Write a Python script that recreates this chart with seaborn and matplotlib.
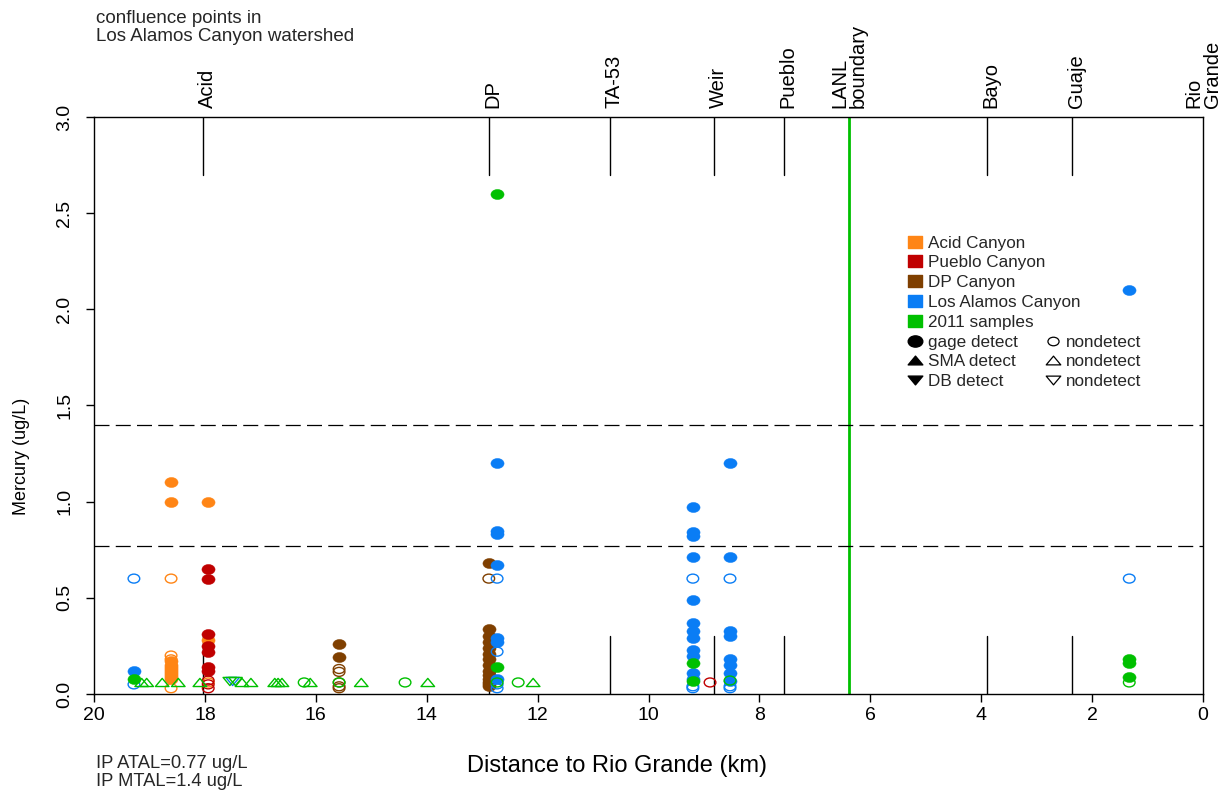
import numpy as np
import pandas as pd
import matplotlib
matplotlib.use('Agg')
import matplotlib.pyplot as plt
import matplotlib.transforms as mtransforms
from matplotlib.path import Path
from matplotlib.lines import Line2D
import seaborn as sns

sns.set_style('white')
plt.rcParams['font.family'] = ['Liberation Sans', 'DejaVu Sans']

#%% DATA

# confluence points, km upstream of the Rio Grande
conf_names = ['Acid', 'DP', 'TA-53', 'Weir', 'Pueblo', 'Bayo', 'Guaje', 'Rio\nGrande']
conf_km = [18.03, 12.88, 10.69, 8.82, 7.56, 3.90, 2.36, 0.0]
lanl_km = 6.38
lanl_name = 'LANL\nboundary'
atal = 0.77
mtal = 1.4

# Acid Canyon (gage)
acid_det_km = [18.61, 18.61, 18.61, 18.61, 18.61, 18.61, 18.61, 18.61, 18.61, 18.61, 18.61, 17.94, 17.94]
acid_det_hg = [1.10, 1.00, 0.17, 0.15, 0.14, 0.13, 0.12, 0.11, 0.10, 0.09, 0.08, 1.00, 0.28]
acid_nd_km = [18.61, 18.61, 18.61, 18.61, 17.94]
acid_nd_hg = [0.60, 0.20, 0.18, 0.03, 0.06]

# Pueblo Canyon (gage)
pueblo_det_km = [17.94, 17.94, 17.94, 17.94, 17.94, 17.94, 17.94]
pueblo_det_hg = [0.65, 0.60, 0.31, 0.25, 0.22, 0.14, 0.12]
pueblo_nd_km = [17.94, 17.94, 17.94, 8.89]
pueblo_nd_hg = [0.07, 0.05, 0.03, 0.06]

# DP Canyon (gage)
dp_det_km = [15.58, 15.58, 12.88, 12.88, 12.88, 12.88, 12.88, 12.88, 12.88,
             12.88, 12.88, 12.88, 12.88, 12.88, 12.88, 12.88]
dp_det_hg = [0.26, 0.19, 0.68, 0.34, 0.30, 0.27, 0.24, 0.21, 0.18,
             0.15, 0.12, 0.10, 0.08, 0.06, 0.05, 0.04]
dp_nd_km = [15.58, 15.58, 15.58, 15.58, 15.58, 12.88]
dp_nd_hg = [0.13, 0.115, 0.06, 0.04, 0.03, 0.60]

# Los Alamos Canyon (gage + DB)
la_det_km = [19.28, 12.73, 12.73, 12.73, 12.73, 12.73, 12.73, 12.73,
             9.20, 9.20, 9.20, 9.20, 9.20, 9.20, 9.20, 9.20, 9.20, 9.20, 9.20, 9.20,
             8.53, 8.53, 8.53, 8.53, 8.53, 8.53, 8.53, 8.53, 1.33]
la_det_hg = [0.12, 1.20, 0.85, 0.83, 0.67, 0.29, 0.27, 0.08,
             0.97, 0.84, 0.82, 0.71, 0.49, 0.37, 0.33, 0.29, 0.23, 0.20, 0.11, 0.08,
             1.20, 0.71, 0.33, 0.30, 0.18, 0.15, 0.11, 0.07, 2.10]
la_nd_km = [19.28, 19.28, 12.73, 12.73, 12.73, 12.73, 9.20, 9.20, 9.20, 8.53, 8.53, 8.53, 1.33]
la_nd_hg = [0.60, 0.05, 0.60, 0.22, 0.05, 0.03, 0.60, 0.04, 0.03, 0.60, 0.04, 0.03, 0.60]
la_db_nd_km = [17.50]
la_db_nd_hg = [0.065]

# 2011 samples (gage, SMA, DB)
s11_det_km = [19.28, 12.73, 12.73, 9.20, 9.20, 1.33, 1.33, 1.33]
s11_det_hg = [0.08, 2.60, 0.14, 0.16, 0.07, 0.18, 0.16, 0.09]
s11_nd_km = [16.21, 15.58, 14.39, 12.73, 12.35, 8.53, 1.33]
s11_nd_hg = [0.06, 0.06, 0.06, 0.06, 0.06, 0.07, 0.06]
s11_sma_nd_km = [19.14, 19.05, 18.77, 18.48, 18.09, 17.33, 17.17, 16.74, 16.68,
                 16.61, 16.10, 15.18, 13.98, 12.08]
s11_sma_nd_hg = [0.06, 0.06, 0.06, 0.06, 0.06, 0.06, 0.06, 0.06, 0.06,
                 0.06, 0.06, 0.06, 0.06, 0.06]
s11_db_nd_km = [17.55, 17.45]
s11_db_nd_hg = [0.065, 0.065]

sources = ['Acid Canyon', 'Pueblo Canyon', 'DP Canyon', 'Los Alamos Canyon', '2011 samples']
colors = ['#FF8515', '#C00000', '#7F3F00', '#0A7DF5', '#00C000']
pal = dict(zip(sources, colors))

#%% BUILD TABLE
rows = []
def add(src, sampler, detect, km, hg):
    for k, h in zip(km, hg):
        rows.append((src, sampler, detect, k, h))

add('Acid Canyon', 'gage', True, acid_det_km, acid_det_hg)
add('Acid Canyon', 'gage', False, acid_nd_km, acid_nd_hg)
add('Pueblo Canyon', 'gage', True, pueblo_det_km, pueblo_det_hg)
add('Pueblo Canyon', 'gage', False, pueblo_nd_km, pueblo_nd_hg)
add('DP Canyon', 'gage', True, dp_det_km, dp_det_hg)
add('DP Canyon', 'gage', False, dp_nd_km, dp_nd_hg)
add('Los Alamos Canyon', 'gage', True, la_det_km, la_det_hg)
add('Los Alamos Canyon', 'gage', False, la_nd_km, la_nd_hg)
add('Los Alamos Canyon', 'DB', False, la_db_nd_km, la_db_nd_hg)
add('2011 samples', 'gage', True, s11_det_km, s11_det_hg)
add('2011 samples', 'gage', False, s11_nd_km, s11_nd_hg)
add('2011 samples', 'SMA', False, s11_sma_nd_km, s11_sma_nd_hg)
add('2011 samples', 'DB', False, s11_db_nd_km, s11_db_nd_hg)
df = pd.DataFrame(rows, columns=['source', 'sampler', 'detect', 'km', 'hg'])

# marker shapes (slightly squashed like the original device)
circ = Path.unit_circle()
ellipse = Path(circ.vertices * [1.0, 0.77], circ.codes)
tri_up = Path([(-1, -0.6), (1, -0.6), (0, 0.6), (-1, -0.6)], closed=True)
tri_dn = Path([(-1, 0.6), (1, 0.6), (0, -0.6), (-1, 0.6)], closed=True)
square = Path([(-1, -0.8), (1, -0.8), (1, 0.8), (-1, 0.8), (-1, -0.8)], closed=True)
shapes = {'gage': ellipse, 'SMA': tri_up, 'DB': tri_dn}

#%% PLOT
fig = plt.figure(figsize=(12.32, 7.91), dpi=100)
ax = fig.add_axes([94/1232, 1-694/791, 1109/1232, 577/791])

# confluence marks
for km in conf_km[:-1]:
    ax.plot([km, km], [0, 0.3], color='k', lw=1)
    ax.plot([km, km], [2.7, 3.0], color='k', lw=1)
ax.axvline(lanl_km, color='#00C000', lw=2)
ax.axhline(atal, color='k', lw=0.9, dashes=(12, 5))
ax.axhline(mtal, color='k', lw=0.9, dashes=(12, 5))

for src in sources:
    for sampler in ['gage', 'SMA', 'DB']:
        for det in [True, False]:
            sub = df[(df.source == src) & (df.sampler == sampler) & (df.detect == det)]
            if len(sub) == 0:
                continue
            if det:
                sns.scatterplot(data=sub, x='km', y='hg', color=pal[src], marker=shapes[sampler],
                                s=90, edgecolor=pal[src], linewidth=0.3, legend=False, ax=ax, zorder=3)
            else:
                sns.scatterplot(data=sub, x='km', y='hg', color=pal[src], marker=shapes[sampler],
                                s=70 if sampler == 'gage' else 95, facecolor='none',
                                edgecolor=pal[src], linewidth=1.0, legend=False, ax=ax, zorder=3)

ax.set_xlim(20, 0)
ax.set_ylim(0, 3)
ax.set_xticks(np.arange(20, -1, -2))
ax.set_xticklabels([str(v) for v in range(20, -1, -2)], fontsize=14)
ax.set_yticks(np.arange(0, 3.01, 0.5))
ax.set_yticklabels(['%.1f' % v for v in np.arange(0, 3.01, 0.5)], fontsize=14,
                   rotation=90, va='center')
ax.tick_params(axis='both', bottom=True, left=True, direction='out', length=6,
               width=1, color='k', labelcolor='k')
ax.tick_params(axis='x', pad=3)
ax.tick_params(axis='y', pad=9)
for sp in ax.spines.values():
    sp.set_color('k')
    sp.set_linewidth(1)

ax.set_xlabel('Distance to Rio Grande (km)', fontsize=17, color='k')
ax.xaxis.set_label_coords(0.4716, -0.125)
ax.xaxis.label.set_va('center')
ax.set_ylabel('Mercury (ug/L)', fontsize=13, color='k')
ax.yaxis.set_label_coords(-0.065, 0.412)
ax.yaxis.label.set_va('center')

# confluence names above the plot
trans = mtransforms.blended_transform_factory(ax.transData, ax.transAxes)
for name, km in zip(conf_names + [lanl_name], conf_km + [lanl_km]):
    off = 0 if '\n' in name else 4
    t = trans + mtransforms.ScaledTranslation(off/100, 9/100, fig.dpi_scale_trans)
    ax.text(km, 1.0, name, transform=t, rotation=90, ha='center', va='bottom',
            multialignment='left', fontsize=14.5, color='k', linespacing=0.95)

fig.text(96/1232, 1-10/791, 'confluence points in\nLos Alamos Canyon watershed',
         ha='left', va='top', fontsize=13.5, linespacing=1.07)
fig.text(96/1232, 1-755/791, 'IP ATAL=0.77 ug/L\nIP MTAL=1.4 ug/L',
         ha='left', va='top', fontsize=13.2, linespacing=1.07)

# legend: colours + sampler types
h1 = [Line2D([], [], linestyle='none', marker=square, markersize=10, color=c) for c in colors]
h1 += [Line2D([], [], linestyle='none', marker=m, markersize=10.5, color='k') for m in [ellipse, tri_up, tri_dn]]
l1 = sources + ['gage detect', 'SMA detect', 'DB detect']
h2 = [Line2D([], [], linestyle='none') for _ in range(5)]
h2 += [Line2D([], [], linestyle='none', marker=ellipse, markersize=8, color='k',
              markerfacecolor='none', markeredgewidth=0.9)]
h2 += [Line2D([], [], linestyle='none', marker=m, markersize=10.5, color='k',
              markerfacecolor='none', markeredgewidth=0.9) for m in [tri_up, tri_dn]]
l2 = [' '] * 5 + ['nondetect'] * 3
kw = dict(frameon=False, fontsize=12.3, handlelength=0.8, handletextpad=0.37,
          labelspacing=0.28, borderpad=0, borderaxespad=0, loc='upper left')
leg1 = ax.legend(h1, l1, bbox_to_anchor=(0.734, 0.7943), **kw)
ax.add_artist(leg1)
ax.legend(h2, l2, bbox_to_anchor=(0.8584, 0.7943), **kw)

fig.savefig('out.png', dpi=100)
